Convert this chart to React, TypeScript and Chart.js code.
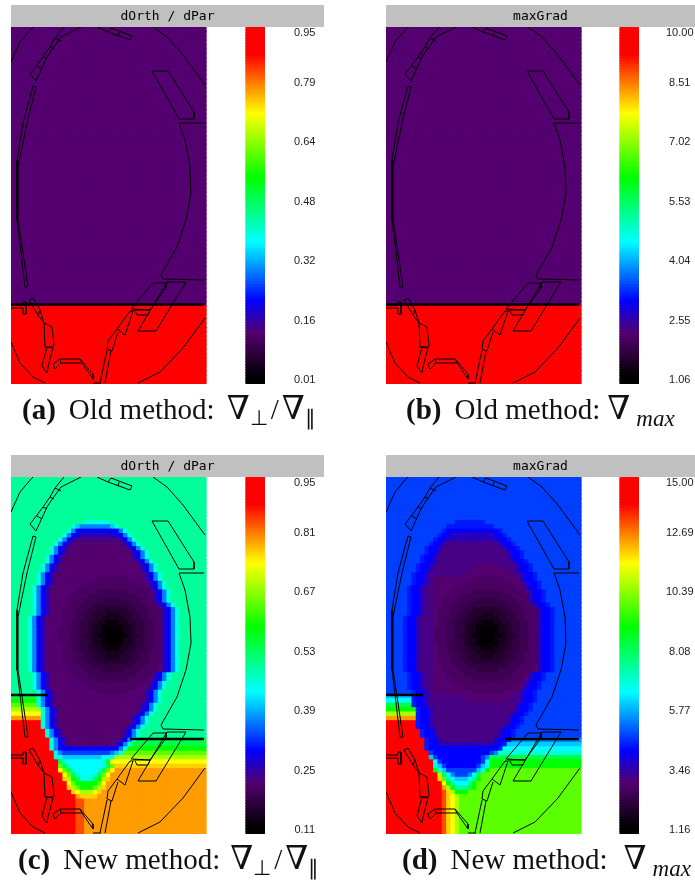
import React, { useEffect, useRef } from "react";
import { Chart, registerables } from "chart.js";

Chart.register(...registerables);

// ---- colour map: fraction of the range -> rgb
const mapStops = [0, 0.02, 0.145, 0.235, 0.4, 0.58, 0.76, 0.925, 1];
const mapColours = [
  [0, 0, 0], [0, 0, 0], [84, 0, 112], [0, 0, 255], [0, 255, 255],
  [0, 255, 0], [255, 255, 0], [255, 0, 0], [255, 0, 0],
];

// ---- cell codes used in the rows below -> fraction of the value range
const levelFractions: Record<string, number> = {
  "0": 0.0, "1": 0.03, "2": 0.055, "3": 0.075, "4": 0.095, "5": 0.112, "6": 0.13, "7": 0.145,
  "8": 0.158, "9": 0.19, a: 0.25, b: 0.235, c: 0.276, d: 0.32, e: 0.365, f: 0.4, g: 0.425, h: 0.472,
  i: 0.53, j: 0.58, k: 0.645, l: 0.7, m: 0.76, n: 0.79, o: 0.824, p: 0.875, q: 0.95,
};

// ---- grid size of the sampled field
const gridCols = 45;
const gridRows = 82;
const machineWidth = 195;
const machineHeight = 357;

// ---- old method: both quantities are flat above / below the cut
const oldRows = [...Array(64).fill("7"), ...Array(18).fill("q")];

// ---- new method, dOrth / dPar (row by row, spaces only for reading; last code repeats to the edge)
const newRatioRows = [
  "h", "h", "h", "h", "h", "h", "h", "h", "h", "h",
  "hhhhhhhhhhhhhhhhh gggggg h",
  "hhhhhhhhhhhhhh gedddddddeg h",
  "hhhhhhhhhhhhh gd bbbbbbbbbb dg h",
  "hhhhhhhhhhhh gdbb 99999999 bbdg h",
  "hhhhhhhhhhh gdb9 8888888888 9bdg h",
  "hhhhhhhhhh gdb9 777777777777 9bdg h",
  "hhhhhhhhh gdb9 77777777777777 9bdg h",
  "hhhhhhhhh gdb9 777777777777777 9bdg h",
  "hhhhhhhh gdb9 7777777777777777 9bdg h",
  "hhhhhhhh gdb9 77777777777777777 9bdg h",
  "hhhhhhh gdb9 7777777777777777777 9bdg h",
  "hhhhhhh gdb9 7777777777777777777 9bdg h",
  "hhhhhh gdb9 777777777777777777777 9bdg h",
  "hhhhhh gdb9 7 77777777766666667777 9bdg h",
  "hhhhhh gdb9 7 777777766666666666777 9bdg h",
  "hhhhh gdb9 77 777776666666666666667 9bdg h",
  "hhhhh gdb9 77 7777666665555555666667 9bdg h",
  "hhhhh gdb9 77 7776666555555555556666 9bdg h",
  "hhhhh gdb9 77 7766665555444445555666 9bdg h",
  "hhhhh gdb9 77 77666555444444444555666 9bdg h",
  "hhhhh gdb9 77 766655544333333344555666 9bdg h",
  "hhhhh gdb9 77 766655443332223334455666 9bdg h",
  "hhhh gdb9 777 766655443322222334455666 9bdg h",
  "hhhh gdb9 777 766554433221112233445566 9bdg h",
  "hhhh gdb9 777 766554432211111223445566 9bdg h",
  "hhhh gdb9 777 666554432210001223445566 9bdg h",
  "hhhh gdb9 777 666554332110001123345566 9bdg h",
  "hhhh gdb9 777 666554432210001223445566 9bdg h",
  "hhhh gdb9 777 766554432211111223445566 9bdg h",
  "hhhh gdb9 777 766554433221112233445566 9bdg h",
  "hhhh gdb9 777 766655443322222334455666 9bdg h",
  "hhhh gdb9 777 766655443332223334455666 9bdg h",
  "hhhh gdb9 777 766655544333333344555666 9bdg h",
  "hhhh gdb9 777 776665554444444445556667 9bdg h",
  "hhhh gdb9 777 776666555544444555566667 9bdg h",
  "hhhhh gdb9 77 7776666555555555556666 9bdg h",
  "hhhhh gdb9 77 7777666665555555666667 9bdg h",
  "hhhhh gdb9 77 777776666666666666667 9bdg h",
  "hhhhh gdb9 77 777777766666666666777 9bdg h",
  "hhhhhh gdb9 7 77777777766666667777 9bdg h",
  "iiiiii gdb9 777777777777777777777 9bdg h",
  "jjjjjj gdb9 777777777777777777777 9bdg h",
  "kkkkkk gdb9 77777777777777777777 9bdg h",
  "lllllll gdb9 7777777777777777777 9bdg h",
  "mmmmmmm gdb9 777777777777777777 9bdg h",
  "ooooooo gdb9 77777777777777777 9bdg h",
  "qqqqqqq gdb9 77777777777777777 9bdg h",
  "qqqqqqq gdb9 7777777777777777 9bdg h",
  "qqqqqqqq gdb9 77777777777777 9bdg h",
  "qqqqqqqq gdb9 77777777777777 9bdg h",
  "qqqqqqqqq gdb9 777777777777 9bdg i",
  "qqqqqqqqq gdb9 77777777777 9bdg i",
  "qqqqqqqqq gdb bbbbbbbbbbb bbdg j",
  "qqqqqqqqqq gd ccccccccccc deg k",
  "qqqqqqqqqq gf eeeeeeeee ffg l",
  "qqqqqqqqqqq ig ffffffff gi m",
  "qqqqqqqqqqq kig fffffff gik n",
  "qqqqqqqqqqq mkig fffff gikm o",
  "qqqqqqqqqqqq mkig fff gikm o",
  "qqqqqqqqqqqq nlji ggg ijln o",
  "qqqqqqqqqqqqq mkj jjj jkm o",
  "qqqqqqqqqqqqq nlk jjj kln o",
  "qqqqqqqqqqqqqq nm lll mn o",
  "qqqqqqqqqqqqqqq o nnnn o",
  "qqqqqqqqqqqqqqq pp o",
  "qqqqqqqqqqqqqqq pp o",
  "qqqqqqqqqqqqqqq pp o",
  "qqqqqqqqqqqqqqq pp o",
  "qqqqqqqqqqqqqqq pp o",
  "qqqqqqqqqqqqqqq pp o",
  "qqqqqqqqqqqqqqq pp o",
  "qqqqqqqqqqqqqqq pp o",
];

// ---- new method, maxGrad
const newGradRows = [
  "c", "c", "c", "c", "c", "c", "c", "c", "c", "c",
  "cccccccccccccccc aaaaaaa c",
  "cccccccccccccc aaaaaaaaaaa c",
  "ccccccccccccc a bbbbbbbbbbbb a c",
  "cccccccccccc ab b 9999999999 bb a c",
  "ccccccccccc abb 999999999999 bba c",
  "cccccccccc abb9 888888888888 9bba c",
  "ccccccccc abb9 88888888888888 9bba c",
  "ccccccccc abb9 888888888888888 9bba c",
  "cccccccc abb9 8888888888888888 9bba c",
  "cccccccc abb9 88888888888888888 9bba c",
  "ccccccc abb9 8888888888 77777 8888 9bba c",
  "ccccccc abb9 88888888 777777777 88 9bba c",
  "cccccc abb9 88888888 77777777777 88 9bba c",
  "cccccc abb9 8 77777777766666667777 9bba c",
  "cccccc abb9 8 777777766666666666777 9bba c",
  "ccccc abb9 88 777776666666666666667 9bba c",
  "ccccc abb9 88 7777666665555555666667 9bba c",
  "ccccc abb9 88 7776666555555555556666 9bba c",
  "ccccc abb9 88 7766665555444445555666 9bba c",
  "ccccc abb9 88 77666555444444444555666 9bba c",
  "ccccc abb9 88 766655544333333344555666 9bba c",
  "ccccc abb9 88 766655443332223334455666 9bba c",
  "cccc abb9 888 766655443322222334455666 9bba c",
  "cccc abb9 888 766554433221112233445566 9bba c",
  "cccc abb9 888 766554432211111223445566 9bba c",
  "cccc abb9 888 666554432210001223445566 9bba c",
  "cccc abb9 888 666554332110001123345566 9bba c",
  "cccc abb9 888 666554432210001223445566 9bba c",
  "cccc abb9 888 766554432211111223445566 9bba c",
  "cccc abb9 888 766554433221112233445566 9bba c",
  "cccc abb9 888 766655443322222334455666 9bba c",
  "cccc abb9 888 766655443332223334455666 9bba c",
  "cccc abb9 888 766655544333333344555666 9bba c",
  "cccc abb9 888 776665554444444445556667 9bba c",
  "cccc abb9 888 776666555544444555566667 9bba c",
  "ccccc abb9 88 7776666555555555556666 9bba c",
  "ccccc abb9 88 7777666665555555666667 9bba c",
  "ccccc abb9 88 777776666666666666667 9bba c",
  "ccccc abb9 88 777777766666666666777 9bba c",
  "cccccc abb9 8 77777777766666667777 9bba c",
  "eeeeee abb9 88888888 77777777777 88 9bba c",
  "ffffff abb9 888888888 777777777 888 9bba c",
  "iiiiii abb9 88888888888888888888 9bba c",
  "jjjjjjj abb9 8888888888888888888 9bba c",
  "lllllll abb9 888888888888888888 9bba c",
  "ooooooo abb9 88888888888888888 9bba c",
  "qqqqqqq abb9 88888888888888888 9bba c",
  "qqqqqqq abb9 8888888888888888 9bba c",
  "qqqqqqqq abb9 88888888888888 9bba c",
  "qqqqqqqq abb9 88888888888888 9bba c",
  "qqqqqqqqq abb9 888888888888 9bba d",
  "qqqqqqqqq abb9 99999999999 9bba e",
  "qqqqqqqqq abb bbbbbbbbbbb bbba f",
  "qqqqqqqqqq cb bbbbbbbbbbb bcd g",
  "qqqqqqqqqq ec bbbbbbbbbb cd i",
  "qqqqqqqqqqq fc bbbbbbbbb cf j",
  "qqqqqqqqqqq gec bbbbbbb ceg j",
  "qqqqqqqqqqq jgec ccccc cegj k",
  "qqqqqqqqqqqq lifd ccc dfik k",
  "qqqqqqqqqqqq nkhf eee fhj k",
  "qqqqqqqqqqqqq mjh fff hj k",
  "qqqqqqqqqqqqq olj hhh ij k",
  "qqqqqqqqqqqqq pnl jjj k",
  "qqqqqqqqqqqqq pnml k",
  "qqqqqqqqqqqqq pnml k",
  "qqqqqqqqqqqqq pnml k",
  "qqqqqqqqqqqqq pnml k",
  "qqqqqqqqqqqqq pnml k",
  "qqqqqqqqqqqqq pnml k",
  "qqqqqqqqqqqqq pnml k",
  "qqqqqqqqqqqqq pnml k",
  "qqqqqqqqqqqqq pnml k",
];

// ---- machine wireframe, in machine units
type Pt = [number, number];
const wireframe: Pt[][] = [
  [[0, 35], [9, 15], [20, 2], [22, 0]],
  [[53, 0], [44, 11], [39, 20], [32, 30], [26, 38], [19, 47], [25, 54], [31, 41], [36, 30], [42, 21], [50, 10], [70, 0]],
  [[44, 11], [50, 14]],
  [[39, 20], [43, 22]],
  [[32, 30], [36, 32]],
  [[26, 39], [31, 42]],
  [[86, 0], [97, 5], [119, 13], [121, 9], [100, 1], [97, 5]],
  [[108, 5], [107, 9]],
  [[142, 0], [156, 10], [172, 28], [194, 58]],
  [[141, 44], [157, 44], [183, 85], [183, 92], [168, 92], [141, 44]],
  [[193, 96], [168, 96], [174, 113], [179, 140], [180, 166], [175, 193], [166, 220], [150, 248], [152, 252], [193, 253]],
  [[22, 59], [12, 96], [6, 133], [6, 160], [6, 193], [10, 226], [14, 260], [17, 260], [12, 226], [7, 193], [7, 140], [9, 130], [16, 96], [25, 60], [22, 59]],
  [[0, 278], [12, 278], [12, 275], [15, 275], [15, 287], [12, 287], [12, 281], [0, 281]],
  [[18, 273], [22, 271], [29, 283], [33, 296], [41, 300], [43, 318], [42, 320], [34, 320], [33, 296], [27, 288], [18, 273]],
  [[27, 288], [29, 283]],
  [[36, 320], [42, 321], [37, 340], [36, 346], [31, 339], [36, 320]],
  [[42, 337], [49, 332], [69, 332], [82, 347], [82, 352], [71, 336], [50, 336], [44, 342], [42, 337]],
  [[49, 332], [50, 336]],
  [[69, 332], [71, 336]],
  [[119, 284], [122, 284], [114, 308], [106, 302], [119, 284]],
  [[106, 302], [97, 314], [96, 322], [101, 324], [107, 305]],
  [[96, 323], [89, 356]],
  [[100, 324], [94, 356]],
  [[82, 356], [90, 356]],
  [[120, 282], [142, 256], [155, 256], [155, 261], [139, 283], [120, 282]],
  [[127, 304], [156, 255], [175, 255], [145, 304], [127, 304]],
  [[122, 283], [139, 283], [137, 288], [126, 288], [124, 284]],
  [[0, 315], [9, 336], [22, 350], [34, 356]],
  [[127, 356], [149, 345], [172, 321], [194, 291]],
];

// ---- heavy cut lines
const oldCuts: Pt[][] = [[[0, 277.5], [193, 277.5]]];
const newCuts: Pt[][] = [[[0, 218], [37, 218]], [[119, 262], [193, 262]]];

// ---- colour bar tick labels (bottom to top)
const ratioOldLabels = ["0.01", "0.16", "0.32", "0.48", "0.64", "0.79", "0.95"];
const gradOldLabels = ["1.06", "2.55", "4.04", "5.53", "7.02", "8.51", "10.00"];
const ratioNewLabels = ["0.11", "0.25", "0.39", "0.53", "0.67", "0.81", "0.95"];
const gradNewLabels = ["1.16", "3.46", "5.77", "8.08", "10.39", "12.69", "15.00"];

const colourFor = (f: number) => {
  const t = Math.max(0, Math.min(1, f));
  let i = 0;
  while (i < mapStops.length - 2 && t > mapStops[i + 1]) i++;
  const u = (t - mapStops[i]) / (mapStops[i + 1] - mapStops[i]);
  const c = mapColours[i].map((a, k) => Math.round(a + (mapColours[i + 1][k] - a) * u));
  return `rgb(${c[0]},${c[1]},${c[2]})`;
};

type PanelSpec = {
  title: string;
  rows: string[];
  cuts: Pt[][];
  labels: string[];
  min: number;
  max: number;
  left: number;
  top: number;
  width: number;
  plotMax: number;
  tickPad: number;
};

const panelSpecs: PanelSpec[] = [
  { title: "dOrth / dPar", rows: oldRows, cuts: oldCuts, labels: ratioOldLabels, min: 0.01, max: 0.95, left: 11, top: 5, width: 313, plotMax: 254, tickPad: 29 },
  { title: "maxGrad", rows: oldRows, cuts: oldCuts, labels: gradOldLabels, min: 1.06, max: 10, left: 386, top: 5, width: 309, plotMax: 253, tickPad: 27 },
  { title: "dOrth / dPar", rows: newRatioRows, cuts: newCuts, labels: ratioNewLabels, min: 0.11, max: 0.95, left: 11, top: 455, width: 313, plotMax: 254, tickPad: 29 },
  { title: "maxGrad", rows: newGradRows, cuts: newCuts, labels: gradNewLabels, min: 1.16, max: 15, left: 386, top: 455, width: 309, plotMax: 253, tickPad: 27 },
];

const titleBand = {
  id: "titleBand",
  beforeDraw(chart: any) {
    const { ctx, width, chartArea } = chart;
    ctx.save();
    ctx.fillStyle = "#c0c0c0";
    ctx.fillRect(0, 0, width, chartArea.top);
    ctx.restore();
  },
};

function Panel({ spec }: { spec: PanelSpec }) {
  const ref = useRef<HTMLCanvasElement>(null);
  useEffect(() => {
    const { rows, min, max, plotMax } = spec;
    const range = max - min;
    const cellW = machineWidth / gridCols;
    const cellH = machineHeight / gridRows;
    const cells: any[] = [];
    const cellColours: string[] = [];
    rows.forEach((raw, r) => {
      const s = raw.replace(/ /g, "");
      const row = s.padEnd(gridCols, s[s.length - 1]);
      for (let c = 0; c < gridCols; c++) {
        const f = levelFractions[row[c]];
        cells.push({ x: (c + 0.5) * cellW, y: [r * cellH, (r + 1) * cellH] });
        cellColours.push(colourFor(f));
      }
    });
    const steps = 128;
    const ramp: any[] = [];
    const rampColours: string[] = [];
    for (let i = 0; i < steps; i++) {
      ramp.push({ x: plotMax - 9.5, y: [min + (range * i) / steps, min + (range * (i + 1)) / steps] });
      rampColours.push(colourFor((i + 0.5) / steps));
    }
    const lineSet = (pts: Pt[], w: number) => ({
      type: "line" as const,
      data: pts.map(([x, y]) => ({ x, y })),
      xAxisID: "x",
      yAxisID: "y",
      borderColor: "#000",
      borderWidth: w,
      pointRadius: 0,
      tension: 0,
      fill: false,
      order: 1,
    });
    const chart = new Chart(ref.current!, {
      type: "bar",
      data: {
        datasets: [
          ...wireframe.map((p) => lineSet(p, 1)),
          ...spec.cuts.map((p) => lineSet(p, 2.4)),
          {
            type: "bar" as const,
            data: cells,
            xAxisID: "x",
            yAxisID: "y",
            stack: "field",
            backgroundColor: cellColours,
            barThickness: cellW,
            inflateAmount: 0.6,
            order: 3,
          },
          {
            type: "bar" as const,
            data: ramp,
            xAxisID: "x",
            yAxisID: "yBar",
            stack: "field",
            backgroundColor: rampColours,
            barThickness: 19,
            inflateAmount: 0.6,
            order: 3,
          },
        ] as any,
      },
      options: {
        responsive: false,
        animation: false,
        events: [],
        devicePixelRatio: 1,
        layout: { padding: { left: 0, right: 0, top: 0, bottom: 6 } },
        plugins: {
          legend: { display: false },
          tooltip: { enabled: false },
          title: {
            display: true,
            text: spec.title,
            color: "#000",
            font: { family: "'DejaVu Sans Mono'", size: 13, weight: "normal" },
            padding: { top: 4, bottom: 2.4 },
          },
        },
        scales: {
          x: { type: "linear", offset: false, min: 0, max: plotMax, display: false },
          y: { type: "linear", reverse: true, stacked: false, min: 0, max: machineHeight, display: false },
          yBar: {
            axis: "y",
            type: "linear",
            position: "right",
            stacked: false,
            min,
            max,
            grid: { display: false, drawTicks: false },
            border: { display: false },
            afterBuildTicks(axis: any) {
              axis.ticks = spec.labels.map((_, k) => ({
                value: k === 6 ? min + 0.972 * range : min + (k * range) / 6,
              }));
            },
            afterFit(axis: any) {
              axis.width = spec.width - plotMax;
              axis.paddingTop = 0;
              axis.paddingBottom = 0;
            },
            ticks: {
              autoSkip: false,
              maxRotation: 0,
              crossAlign: "center",
              padding: spec.tickPad,
              labelOffset: -4,
              color: "#222",
              font: { family: "'Liberation Sans'", size: 11 },
              callback: (_v: any, i: number) => spec.labels[i],
            },
          },
        } as any,
      },
      plugins: [titleBand],
    });
    return () => chart.destroy();
  }, [spec]);
  return (
    <canvas
      ref={ref}
      width={spec.width}
      height={385}
      style={{ position: "absolute", left: spec.left, top: spec.top, width: spec.width, height: 385 }}
    />
  );
}

const mathSub: React.CSSProperties = { fontSize: 21, position: "relative", top: "0.3em" };
const nabla: React.CSSProperties = { fontFamily: "'DejaVu Serif'", fontSize: 33 };

function Caption({ left, top, tag, method, ratio, gap }: { left: number; top: number; tag: string; method: string; ratio: boolean; gap: number }) {
  return (
    <div
      style={{
        position: "absolute",
        left,
        top,
        whiteSpace: "nowrap",
        fontFamily: "'Liberation Serif', serif",
        fontSize: 29,
        lineHeight: "30px",
        color: "#111",
      }}
    >
      <b>{tag}</b>
      <span style={{ marginLeft: 13 }}>{method}:</span>
      <span style={{ marginLeft: gap }}>
        <span style={nabla}>∇</span>
        {ratio ? (
          <>
            <span style={mathSub}>⊥</span>
            <span style={{ margin: "0 3px" }}>/</span>
            <span style={nabla}>∇</span>
            <span style={mathSub}>∥</span>
          </>
        ) : (
          <span style={{ ...mathSub, fontSize: 23, fontStyle: "italic", marginLeft: 6 }}>max</span>
        )}
      </span>
    </div>
  );
}

export default function App() {
  return (
    <div style={{ position: "absolute", left: 0, top: 0, width: 695, height: 880, overflow: "hidden", background: "#fff" }}>
      {panelSpecs.map((s, i) => (
        <Panel key={i} spec={s} />
      ))}
      <Caption left={22} top={393} tag="(a)" method="Old method" ratio gap={12} />
      <Caption left={406} top={393} tag="(b)" method="Old method" ratio={false} gap={7} />
      <Caption left={18} top={843} tag="(c)" method="New method" ratio gap={10} />
      <Caption left={402} top={843} tag="(d)" method="New method" ratio={false} gap={16} />
    </div>
  );
}
